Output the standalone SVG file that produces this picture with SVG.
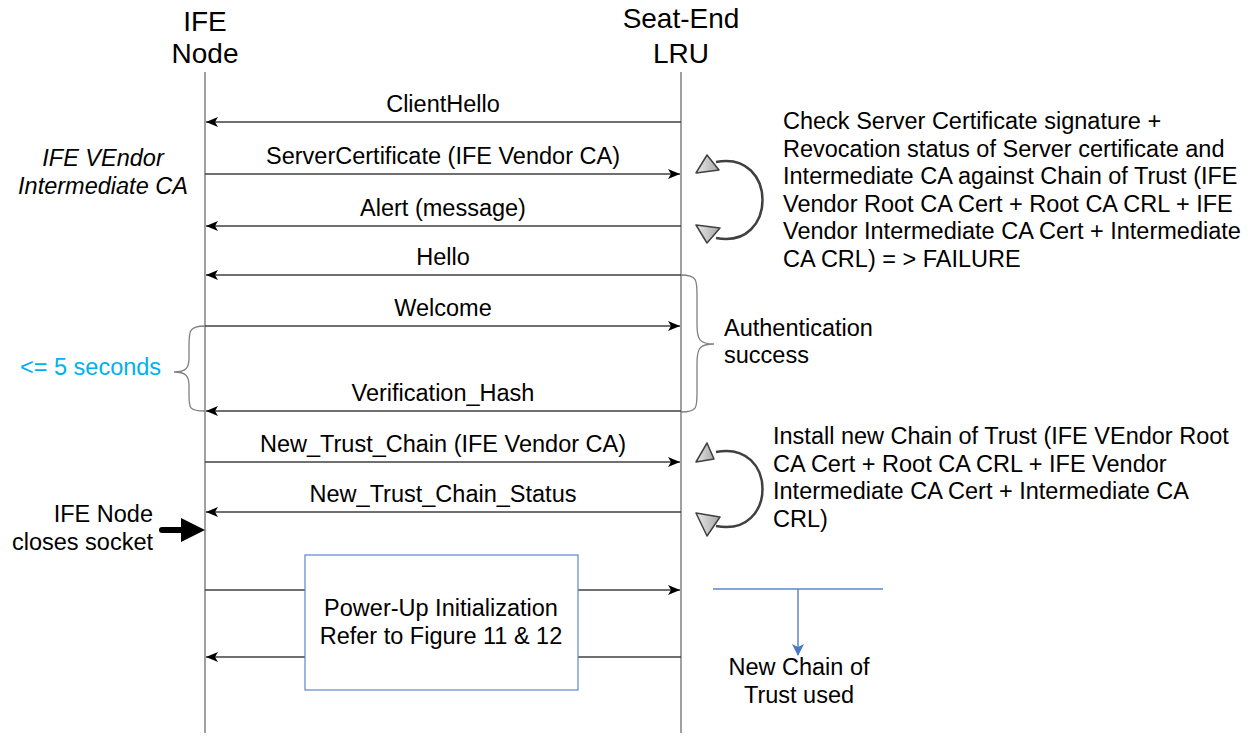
<svg xmlns="http://www.w3.org/2000/svg" width="1257" height="740" viewBox="0 0 1257 740">
<defs>
<style>
text{font-family:"Liberation Sans",Arial,sans-serif;font-size:23.5px;fill:#000}
.title{font-size:28px;text-anchor:middle}
.msg{text-anchor:middle}
.life{stroke:#808080;stroke-width:1.5;fill:none}
.line{stroke:#404040;stroke-width:1.3;fill:none}
.brace{stroke:#808080;stroke-width:1.3;fill:none}
.curl{stroke:#404040;stroke-width:2.5;fill:none}
.tri{fill:url(#g);stroke:#404040;stroke-width:1.5;stroke-linejoin:round}
.blue{stroke:#5B87CC;stroke-width:1.5;fill:none}
</style>
<linearGradient id="g" x1="0" y1="0" x2="1" y2="0">
<stop offset="0" stop-color="#e8e8e8"/><stop offset="1" stop-color="#a8a8a8"/>
</linearGradient>
<marker id="ah" viewBox="0 0 12 10" refX="12" refY="5" markerWidth="12" markerHeight="10" markerUnits="userSpaceOnUse" orient="auto">
<path d="M0,0 L12,5 L0,10 L3,5 z" fill="#000"/>
</marker>
<marker id="bh" viewBox="0 0 12 12" refX="11" refY="6" markerWidth="12" markerHeight="12" markerUnits="userSpaceOnUse" orient="auto">
<path d="M0,0 L12,6 L0,12 L3,6 z" fill="#4A78C4"/>
</marker>
</defs>
<rect width="1257" height="740" fill="#fff"/>

<g id="ife-node">
<text class="title" x="205" y="31">IFE</text>
<text class="title" x="205" y="63">Node</text>
<line class="life" x1="205" y1="72" x2="205" y2="733"/>
</g>
<g id="seat-end-lru">
<text class="title" x="681" y="28">Seat-End</text>
<text class="title" x="681" y="63">LRU</text>
<line class="life" x1="681" y1="72" x2="681" y2="733"/>
</g>

<g id="connectors">
<line class="line" x1="681" y1="122" x2="206" y2="122" marker-end="url(#ah)"/>
<line class="line" x1="205" y1="174" x2="680" y2="174" marker-end="url(#ah)"/>
<line class="line" x1="681" y1="226" x2="206" y2="226" marker-end="url(#ah)"/>
<line class="line" x1="681" y1="275" x2="206" y2="275" marker-end="url(#ah)"/>
<line class="line" x1="205" y1="326" x2="680" y2="326" marker-end="url(#ah)"/>
<line class="line" x1="681" y1="411" x2="206" y2="411" marker-end="url(#ah)"/>
<line class="line" x1="205" y1="462" x2="680" y2="462" marker-end="url(#ah)"/>
<line class="line" x1="681" y1="512" x2="206" y2="512" marker-end="url(#ah)"/>
<line class="line" x1="205" y1="590" x2="305" y2="590"/>
<line class="line" x1="578" y1="590" x2="680" y2="590" marker-end="url(#ah)"/>
<line class="line" x1="681" y1="657" x2="578" y2="657"/>
<line class="line" x1="305" y1="657" x2="206" y2="657" marker-end="url(#ah)"/>
</g>

<g id="labels">
<text class="msg" x="443" y="112">ClientHello</text>
<text class="msg" x="443" y="164">ServerCertificate (IFE Vendor CA)</text>
<text class="msg" x="443" y="216">Alert (message)</text>
<text class="msg" x="443" y="265">Hello</text>
<text class="msg" x="443" y="316">Welcome</text>
<text class="msg" x="443" y="401">Verification_Hash</text>
<text class="msg" x="443" y="452">New_Trust_Chain (IFE Vendor CA)</text>
<text class="msg" x="443" y="502">New_Trust_Chain_Status</text>
</g>

<g id="ife-vendor-note">
<text x="103" y="166" text-anchor="middle" font-style="italic">IFE VEndor</text>
<text x="103" y="194" text-anchor="middle" font-style="italic">Intermediate CA</text>
</g>

<g id="check-curl">
<path class="curl" d="M716,162 C778,150 778,250 716,238"/>
<polygon class="tri" points="696,173 707,155 719,170"/>
<polygon class="tri" points="696,225 720,228 707,243"/>
</g>
<g id="check-note">
<text x="783" y="129">Check Server Certificate signature +</text>
<text x="783" y="156.5">Revocation status of Server certificate and</text>
<text x="783" y="184">Intermediate CA against Chain of Trust (IFE</text>
<text x="783" y="211.5">Vendor Root CA Cert + Root CA CRL + IFE</text>
<text x="783" y="239">Vendor Intermediate CA Cert + Intermediate</text>
<text x="783" y="266.5">CA CRL) = &gt; FAILURE</text>
</g>

<g id="auth-brace">
<path class="brace" d="M681,275 C697,275 697,280 697,295 L697,325 C697,340 700,344 714,344 C700,344 697,348 697,363 L697,393 C697,408 697,412 681,412"/>
<text x="724" y="336">Authentication</text>
<text x="724" y="363">success</text>
</g>

<g id="time-brace">
<path class="brace" d="M205,326 C189,326 189,331 189,346 L189,358 C189,368 186,372 174,372 C186,372 189,376 189,386 L189,395 C189,408 189,411 205,411"/>
<text x="20" y="375" style="fill:#00B0F0">&lt;= 5 seconds</text>
</g>

<g id="install-curl">
<path class="curl" d="M716,452 C778,440 778,538 716,526"/>
<polygon class="tri" points="696,462 707,443 714,459"/>
<polygon class="tri" points="696,513 720,517 707,536"/>
</g>
<g id="install-note">
<text x="773" y="444">Install new Chain of Trust (IFE VEndor Root</text>
<text x="773" y="471.5">CA Cert + Root CA CRL + IFE Vendor</text>
<text x="773" y="499">Intermediate CA Cert + Intermediate CA</text>
<text x="773" y="526.5">CRL)</text>
</g>

<g id="close-socket">
<text x="153" y="522" text-anchor="end">IFE Node</text>
<text x="153" y="550" text-anchor="end">closes socket</text>
<line x1="162" y1="530" x2="184" y2="530" stroke="#000" stroke-width="6" stroke-linecap="round"/>
<polygon points="181,518 205,530 181,542" fill="#000"/>
</g>

<g id="power-up">
<rect x="305" y="555" width="273" height="135" fill="#fff" stroke="#5B87CC" stroke-width="1.2"/>
<text class="msg" x="441" y="616">Power-Up Initialization</text>
<text class="msg" x="441" y="644">Refer to Figure 11 &amp; 12</text>
</g>

<g id="new-chain">
<line class="blue" x1="713" y1="589" x2="883" y2="589"/>
<line class="blue" x1="798" y1="589" x2="798" y2="655" marker-end="url(#bh)"/>
<text class="msg" x="799" y="675">New Chain of</text>
<text class="msg" x="799" y="703">Trust used</text>
</g>
</svg>
